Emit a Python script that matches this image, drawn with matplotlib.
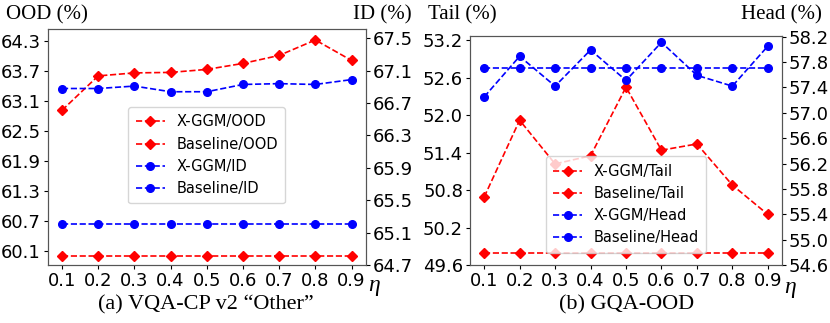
import matplotlib
matplotlib.use("Agg")
import matplotlib.pyplot as plt

eta = [0.1, 0.2, 0.3, 0.4, 0.5, 0.6, 0.7, 0.8, 0.9]
eta_labels = ["0.1", "0.2", "0.3", "0.4", "0.5", "0.6", "0.7", "0.8", "0.9"]

# (a) VQA-CP v2 "Other"
xggm_ood = [62.92, 63.61, 63.67, 63.68, 63.74, 63.86, 64.02, 64.33, 63.92]
base_ood = [60.0] * 9
xggm_id = [66.88, 66.88, 66.91, 66.84, 66.84, 66.93, 66.94, 66.93, 66.99]
base_id = [65.21] * 9

# (b) GQA-OOD
xggm_tail = [50.69, 51.92, 51.22, 51.35, 52.45, 51.44, 51.54, 50.88, 50.41]
base_tail = [49.79] * 9
xggm_head = [57.25, 57.89, 57.42, 57.99, 57.51, 58.11, 57.59, 57.42, 58.05]
base_head = [57.70] * 9

ood_ticks = [60.1, 60.7, 61.3, 61.9, 62.5, 63.1, 63.7, 64.3]
id_ticks = [64.7, 65.1, 65.5, 65.9, 66.3, 66.7, 67.1, 67.5]
tail_ticks = [49.6, 50.2, 50.8, 51.4, 52.0, 52.6, 53.2]
head_ticks = [54.6, 55.0, 55.4, 55.8, 56.2, 56.6, 57.0, 57.4, 57.8, 58.2]

W, H = 830, 323
fig = plt.figure(figsize=(W / 100, H / 100), dpi=100)

SERIF = "Liberation Serif"
TICK_FS = 13
LW = 1.2
MS_D = 5.5
MS_O = 5.5


def panel(rect, y1, y1b, y2, y2b, lab1, lab2, t1, t2, lim1, lim2, legend_y):
    ax = fig.add_axes(rect)
    ax2 = ax.twinx()
    l1, = ax.plot(eta, y1, "--", color="red", marker="D", ms=MS_D, lw=LW, label="X-GGM/" + lab1)
    l2, = ax.plot(eta, y1b, "--", color="red", marker="D", ms=MS_D, lw=LW, label="Baseline/" + lab1)
    l3, = ax2.plot(eta, y2, "--", color="blue", marker="o", ms=MS_O, lw=LW, label="X-GGM/" + lab2)
    l4, = ax2.plot(eta, y2b, "--", color="blue", marker="o", ms=MS_O, lw=LW, label="Baseline/" + lab2)
    ax.set_xticks(eta)
    ax.set_xticklabels(eta_labels)
    ax.set_yticks(t1)
    ax.set_yticklabels([f"{v:.1f}" for v in t1])
    ax2.set_yticks(t2)
    ax2.set_yticklabels([f"{v:.1f}" for v in t2])
    ax.set_ylim(*lim1)
    ax2.set_ylim(*lim2)
    for a in (ax, ax2):
        a.tick_params(labelsize=TICK_FS, length=3, width=0.8, pad=2)
        for s in a.spines.values():
            s.set_color("#555555")
            s.set_linewidth(0.8)
    ax2.legend(handles=[l1, l2, l3, l4], loc="center", bbox_to_anchor=(0.5, legend_y),
               fontsize=10.5, handlelength=2.0, borderpad=0.5, labelspacing=0.5)
    return ax, ax2


axL, axL2 = panel([47.5 / W, 1 - 265 / H, (366 - 47.5) / W, (265 - 29) / H],
                  xggm_ood, base_ood, xggm_id, base_id, "OOD", "ID",
                  ood_ticks, id_ticks, (59.82, 64.55), (64.7, 67.615), 0.465)
axR, axR2 = panel([470 / W, 1 - 265 / H, (782 - 470) / W, (265 - 36) / H],
                  xggm_tail, base_tail, xggm_head, base_head, "Tail", "Head",
                  tail_ticks, head_ticks, (49.6, 53.27), (54.6, 58.21), 0.264)

# axis titles
fig.text(6 / W, 1 - 15 / H, "OOD (%)", family=SERIF, fontsize=15, ha="left", va="center")
fig.text(412 / W, 1 - 15 / H, "ID (%)", family=SERIF, fontsize=15, ha="right", va="center")
fig.text(428 / W, 1 - 15 / H, "Tail (%)", family=SERIF, fontsize=15, ha="left", va="center")
fig.text(822 / W, 1 - 15 / H, "Head (%)", family=SERIF, fontsize=15, ha="right", va="center")

# eta labels
fig.text(374 / W, 1 - 285 / H, "η", family=SERIF, style="italic", fontsize=17, ha="center", va="center")
fig.text(790 / W, 1 - 287 / H, "η", family=SERIF, style="italic", fontsize=17, ha="center", va="center")

# captions
fig.text(206 / W, 1 - 305 / H, "(a) VQA-CP v2 \u201cOther\u201d", family=SERIF, fontsize=16, ha="center", va="center")
fig.text(627 / W, 1 - 305 / H, "(b) GQA-OOD", family=SERIF, fontsize=16, ha="center", va="center")

fig.savefig("out.png", dpi=100)
